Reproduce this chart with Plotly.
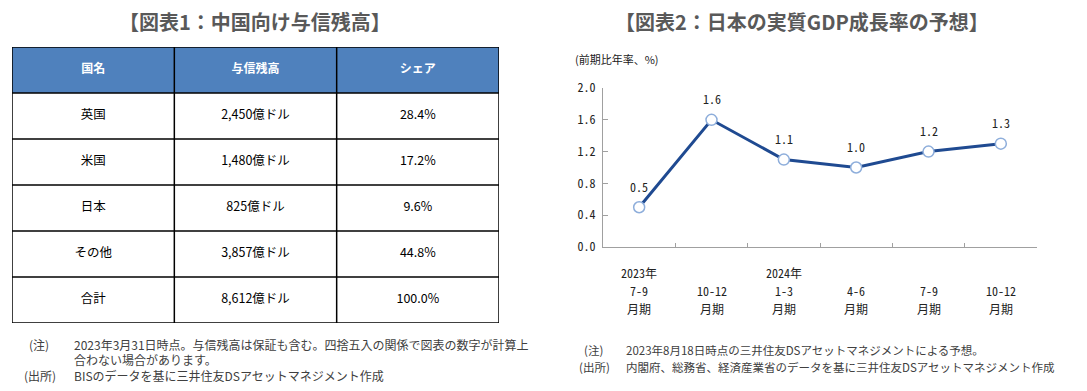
import plotly.graph_objects as go

# The page places the figure 8px in from the top-left corner (default body margin),
# so the figure is laid out in reference pixel coordinates shifted by that offset.
OFF = 8
W, H = 1087 - OFF, 391 - OFF

# ---- Table data ----
table_headers = ["国名", "与信残高", "シェア"]
countries = ["英国", "米国", "日本", "その他", "合計"]
amounts = ["2,450億ドル", "1,480億ドル", "825億ドル", "3,857億ドル", "8,612億ドル"]
shares = ["28.4%", "17.2%", "9.6%", "44.8%", "100.0%"]

# ---- Line chart data ----
quarters = ["7-9", "10-12", "1-3", "4-6", "7-9", "10-12"]
years = ["2023年", "", "2024年", "", "", ""]
period_suffix = ["月期"] * 6
gdp_growth = [0.5, 1.6, 1.1, 1.0, 1.2, 1.3]
y_ticks = [0.0, 0.4, 0.8, 1.2, 1.6, 2.0]

title1 = "【図表1：中国向け与信残高】"
title2 = "【図表2：日本の実質GDP成長率の予想】"
y_unit = "(前期比年率、%)"
notes1 = [("(注)", "2023年3月31日時点。与信残高は保証も含む。四捨五入の関係で図表の数字が計算上"),
          ("", "合わない場合があります。"),
          ("(出所)", "BISのデータを基に三井住友DSアセットマネジメント作成")]
notes2 = [("(注)", "2023年8月18日時点の三井住友DSアセットマネジメントによる予想。"),
          ("(出所)", "内閣府、総務省、経済産業省のデータを基に三井住友DSアセットマネジメント作成")]

JP = "Noto Sans CJK JP"
MONO = "Noto Sans Mono CJK JP, DejaVu Sans Mono, Noto Sans CJK JP"
TITLE_COLOR = "#595959"
NOTE_COLOR = "#404040"
AXIS_COLOR = "#A0A0A0"
HEADER_FILL = "#4F81BD"


def px(x):
    return (x - OFF) / W


def py(y):
    return 1 - (y - OFF) / H


fig = go.Figure()

# ---- Table drawn on its own axes (columns 0..3, rows 0..6 with header row 0) ----
ncol = len(table_headers)
nrow = len(countries) + 1
columns = [countries, amounts, shares]

fig.add_trace(go.Scatter(
    x=[c + 0.5 for c in range(ncol)], y=[0.5] * ncol, text=[f"<b>{h}</b>" for h in table_headers],
    mode="text", textfont=dict(family=JP, size=12, color="white"), textposition="middle center",
    xaxis="x2", yaxis="y2", hoverinfo="skip", showlegend=False,
))
bx, by, bt = [], [], []
for c, col in enumerate(columns):
    for r, val in enumerate(col):
        bx.append(c + 0.5)
        by.append(r + 1.5)
        bt.append(val)
fig.add_trace(go.Scatter(
    x=bx, y=by, text=bt, mode="text",
    textfont=dict(family=JP, size=12.5, color="black"), textposition="middle center",
    xaxis="x2", yaxis="y2", hoverinfo="skip", showlegend=False,
))

shapes = [dict(type="rect", xref="x2", yref="y2", x0=0, x1=ncol, y0=0, y1=1,
               fillcolor=HEADER_FILL, line=dict(width=0), layer="below")]
for r in range(nrow + 1):
    shapes.append(dict(type="line", xref="x2", yref="y2", x0=0, x1=ncol, y0=r, y1=r,
                       line=dict(color="black", width=1.5)))
for c in range(ncol + 1):
    shapes.append(dict(type="line", xref="x2", yref="y2", x0=c, x1=c, y0=0, y1=nrow,
                       line=dict(color="black", width=1.5)))

# ---- Line chart ----
x_idx = list(range(len(quarters)))
fig.add_trace(go.Scatter(
    x=x_idx, y=gdp_growth, mode="lines+markers",
    line=dict(color="#1F4A91", width=3),
    marker=dict(size=11, color="white", line=dict(color="#8EAEDB", width=1.5)),
    hoverinfo="skip", showlegend=False,
))

fig.update_layout(
    width=W, height=H, margin=dict(l=0, r=0, t=0, b=0, autoexpand=False),
    paper_bgcolor="white", plot_bgcolor="white", showlegend=False,
    xaxis=dict(domain=[px(603), px(1037)], range=[-0.5, 5.5], tickvals=[i - 0.5 for i in range(7)],
               showticklabels=False, ticks="inside", ticklen=4, tickcolor=AXIS_COLOR,
               showline=True, linecolor=AXIS_COLOR, linewidth=1, showgrid=False, zeroline=False,
               fixedrange=True, automargin=False),
    yaxis=dict(domain=[py(247), py(88)], range=[0, 2.0], tickvals=y_ticks,
               ticktext=[f"{v:.1f}" for v in y_ticks],
               ticks="inside", ticklen=5, tickcolor=AXIS_COLOR,
               showline=True, linecolor=AXIS_COLOR, linewidth=1, showgrid=False, zeroline=False,
               tickfont=dict(family=MONO, size=12, color="#222222"), ticklabelstandoff=4,
               fixedrange=True, automargin=False),
    xaxis2=dict(domain=[px(12), px(499)], range=[0, ncol], visible=False, fixedrange=True,
                automargin=False, anchor="y2"),
    yaxis2=dict(domain=[py(323), py(47)], range=[nrow, 0], visible=False, fixedrange=True,
                automargin=False, anchor="x2"),
    shapes=shapes,
)


def note(text, x, y, size, color, xanchor="left", family=JP):
    return dict(text=text, x=px(x), y=py(y), xref="paper", yref="paper", xanchor=xanchor,
                yanchor="middle", showarrow=False, font=dict(family=family, size=size, color=color))


ann = []
ann.append(note(f"<b>{title1}</b>", 255, 22, 20, TITLE_COLOR, "center"))
ann.append(note(f"<b>{title2}</b>", 802, 22, 20, TITLE_COLOR, "center"))
ann.append(note(y_unit, 573, 59, 11, "#222222"))

# data labels
for i, v in enumerate(gdp_growth):
    ann.append(dict(text=f"{v:.1f}", x=i, y=v, xref="x", yref="y", yshift=21, showarrow=False,
                    xanchor="center", yanchor="middle",
                    font=dict(family=MONO, size=12, color="#222222")))

# category labels
for row, yy in ((years, 272), (quarters, 290), (period_suffix, 308)):
    for i, t in enumerate(row):
        if t:
            ann.append(dict(text=t, x=i, y=py(yy), xref="x", yref="paper", showarrow=False,
                            xanchor="center", yanchor="middle",
                            font=dict(family=MONO, size=12, color="#222222")))

# notes
for (lab, txt), yy, lx in zip(notes1, (344, 359, 375), (27, 27, 22)):
    if lab:
        ann.append(note(lab, lx, yy, 12, NOTE_COLOR))
    ann.append(note(txt, 72, yy, 12, NOTE_COLOR))
for (lab, txt), yy, lx in zip(notes2, (350, 367), (582, 577)):
    ann.append(note(lab, lx, yy, 11.5, NOTE_COLOR))
    ann.append(note(txt, 624, yy, 11.5, NOTE_COLOR))

fig.update_layout(annotations=ann)
fig.write_html("out.html", config=dict(displayModeBar=False))
